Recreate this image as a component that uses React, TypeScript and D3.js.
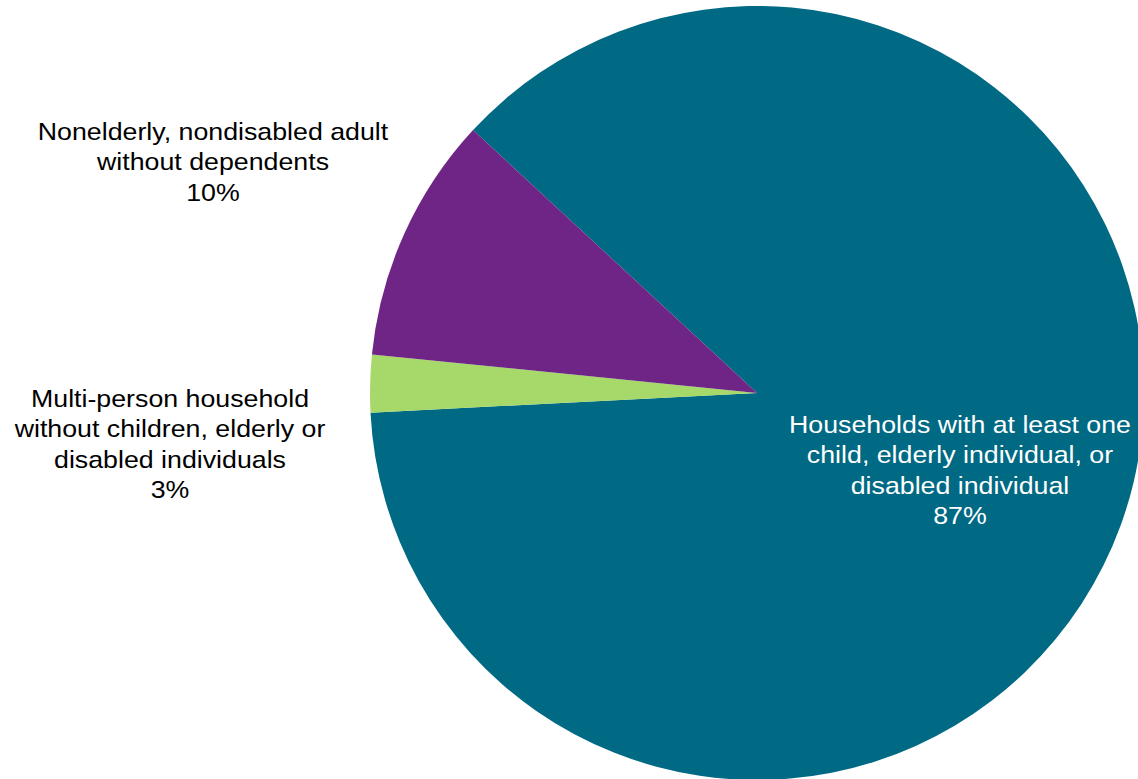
import React from "react";
import * as d3 from "d3";

const categories = [
  "Households with at least one child, elderly individual, or disabled individual",
  "Multi-person household without children, elderly or disabled individuals",
  "Nonelderly, nondisabled adult without dependents",
];
const values = [87.3, 2.4, 10.3];
const percentLabels = ["87%", "3%", "10%"];
const labelLines = [
  ["Households with at least one", "child, elderly individual, or", "disabled individual"],
  ["Multi-person household", "without children, elderly or", "disabled individuals"],
  ["Nonelderly, nondisabled adult", "without dependents"],
];
const colors = ["#006983", "#A6D86A", "#6E2585"];
const textColors = ["#FFFFFF", "#000000", "#000000"];

const W = 1138;
const H = 779;
const cx = 757;
const cy = 393;
const R = 387;
const startDeg = -47.2;
// label anchor positions (center x, first baseline y)
const labelPos = [
  { x: 960, y: 433 },
  { x: 170, y: 407 },
  { x: 213, y: 140 },
];
const lineH = 30.5;
const fontSize = 24;
const stretchX = 1.115;

export default function App() {
  const pie = d3
    .pie<number>()
    .sort(null)
    .startAngle((startDeg * Math.PI) / 180)
    .endAngle((startDeg * Math.PI) / 180 + 2 * Math.PI);
  const arcs = pie(values);
  const arc = d3.arc<d3.PieArcDatum<number>>().innerRadius(0).outerRadius(R);

  return (
    <svg
      width={W}
      height={H}
      style={{ position: "absolute", left: 0, top: 0, display: "block" }}
    >
      <rect width={W} height={H} fill="#ffffff" />
      <g transform={`translate(${cx},${cy})`}>
        {arcs.map((a, i) => (
          <path key={categories[i]} d={arc(a) || ""} fill={colors[i]} />
        ))}
      </g>
      {arcs.map((a, i) => {
        const lines = [...labelLines[i], percentLabels[i]];
        return (
          <g key={"l" + i} transform={`translate(${labelPos[i].x},0) scale(${stretchX},1)`}>
            <text
              textAnchor="middle"
              fontFamily="'Liberation Sans', Arial, sans-serif"
              fontSize={fontSize}
              fill={textColors[i]}
            >
              {lines.map((ln, j) => (
                <tspan key={j} x={0} y={labelPos[i].y + j * lineH}>
                  {ln}
                </tspan>
              ))}
            </text>
          </g>
        );
      })}
    </svg>
  );
}
